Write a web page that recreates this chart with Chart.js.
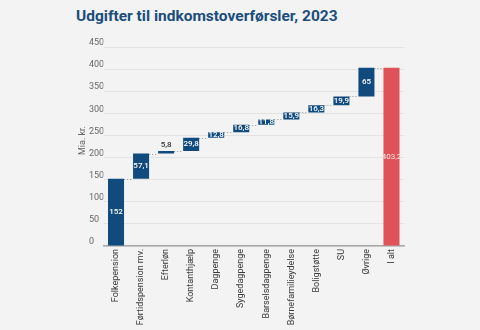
<!DOCTYPE html>
<html>
<head>
<meta charset="utf-8">
<script src="https://cdn.jsdelivr.net/npm/chart.js@4"></script>
<style>
  html, body { margin: 0; padding: 0; background: #f3f3f3; }
  #wrap { position: relative; width: 480px; height: 330px; }
  #title {
    position: absolute; left: 76px; top: 7px;
    font: bold 15.5px Roboto, "Noto Sans", sans-serif;
    color: #1b4e7b; white-space: nowrap;
  }
  canvas { position: absolute; left: 0; top: 0; }
</style>
</head>
<body>
<div id="wrap">
  <div id="title">Udgifter til indkomstoverførsler, 2023</div>
  <canvas id="c" width="480" height="330"></canvas>
</div>
<script>
// Expenditure on income transfers, 2023 (bn. DKK)
const categories = ["Folkepension", "Førtidspension mv.", "Efterløn", "Kontanthjælp", "Dagpenge",
  "Sygedagpenge", "Barselsdagpenge", "Børnefamilieydelse", "Boligstøtte", "SU", "Øvrige", "I alt"];
const components = [152, 57.1, 5.8, 29.8, 12.8, 16.8, 11.8, 15.9, 16.3, 19.9, 65];
const totalValue = 403.2;
const yTicks = [0, 50, 100, 150, 200, 250, 300, 350, 400, 450];

const BLUE = '#114b7d';
const RED = '#df5258';

// Floating bars: each component starts where the previous one ended
const floating = [];
const labelValues = [];
let running = 0;
components.forEach(v => {
  floating.push([running, running + v]);
  labelValues.push(v);
  running += v;
});
floating.push([0, totalValue]);
labelValues.push(totalValue);

const fmt = v => String(v).replace('.', ',');

const waterfallDecor = {
  id: 'waterfallDecor',
  beforeDatasetsDraw(chart) {
    // dotted connectors between consecutive bars
    const meta = chart.getDatasetMeta(0);
    const y = chart.scales.y;
    const ctx = chart.ctx;
    ctx.save();
    ctx.strokeStyle = '#9a9a9a';
    ctx.lineWidth = 1;
    ctx.setLineDash([1, 2]);
    for (let i = 0; i < meta.data.length - 1; i++) {
      const a = meta.data[i], b = meta.data[i + 1];
      const level = y.getPixelForValue(floating[i][1]);
      ctx.beginPath();
      ctx.moveTo(a.x + a.width / 2, Math.round(level) + 0.5);
      ctx.lineTo(b.x - b.width / 2, Math.round(level) + 0.5);
      ctx.stroke();
    }
    ctx.restore();
  },
  afterDatasetsDraw(chart) {
    const meta = chart.getDatasetMeta(0);
    const ctx = chart.ctx;
    ctx.save();
    ctx.textAlign = 'center';
    ctx.textBaseline = 'middle';
    meta.data.forEach((bar, i) => {
      const top = Math.min(bar.y, bar.base);
      const h = Math.abs(bar.base - bar.y);
      const text = fmt(labelValues[i]);
      const isTotal = i === meta.data.length - 1;
      ctx.font = (isTotal ? '400' : '500') + ' 8px Roboto, sans-serif';
      if (h < 4) {
        ctx.fillStyle = '#333';
        ctx.fillText(text, bar.x, top - 6);
      } else {
        ctx.fillStyle = isTotal ? '#fbe3e3' : '#ffffff';
        ctx.fillText(text, bar.x, top + h / 2);
      }
    });
    // vertical axis title
    const area = chart.chartArea;
    ctx.fillStyle = '#666';
    ctx.font = '9px Roboto, sans-serif';
    ctx.translate(83, (area.top + area.bottom) / 2 - 6);
    ctx.rotate(-Math.PI / 2);
    ctx.fillText('Mia. kr.', 0, 0);
    ctx.restore();
  }
};

new Chart(document.getElementById('c'), {
  type: 'bar',
  data: {
    labels: categories,
    datasets: [{
      data: floating,
      backgroundColor: categories.map((_, i) => i === categories.length - 1 ? RED : BLUE),
      borderWidth: 0,
      barPercentage: 0.64,
      categoryPercentage: 1
    }]
  },
  options: {
    responsive: false,
    animation: false,
    layout: { padding: { left: 89, right: 76, top: 47, bottom: 0 } },
    plugins: { legend: { display: false }, tooltip: { enabled: false }, title: { display: false } },
    scales: {
      x: {
        grid: { display: false, drawTicks: false },
        border: { color: '#a8a8a8', width: 1.5 },
        ticks: {
          color: '#3a3a3a', font: { family: 'Roboto', size: 9 },
          minRotation: 90, maxRotation: 90, autoSkip: false, padding: 3
        },
        afterFit(s) { s.height = 84; }
      },
      y: {
        min: 0, max: 450,
        afterBuildTicks(s) { s.ticks = yTicks.map(v => ({ value: v })); },
        grid: { color: '#e2e2e2', lineWidth: 1, drawTicks: false },
        border: { display: false },
        ticks: {
          color: '#686868', font: { family: 'Roboto', size: 9 },
          crossAlign: 'far', padding: 0, labelOffset: -4
        },
        afterFit(s) { s.width = 14.5; }
      }
    }
  },
  plugins: [waterfallDecor]
});
</script>
</body>
</html>
